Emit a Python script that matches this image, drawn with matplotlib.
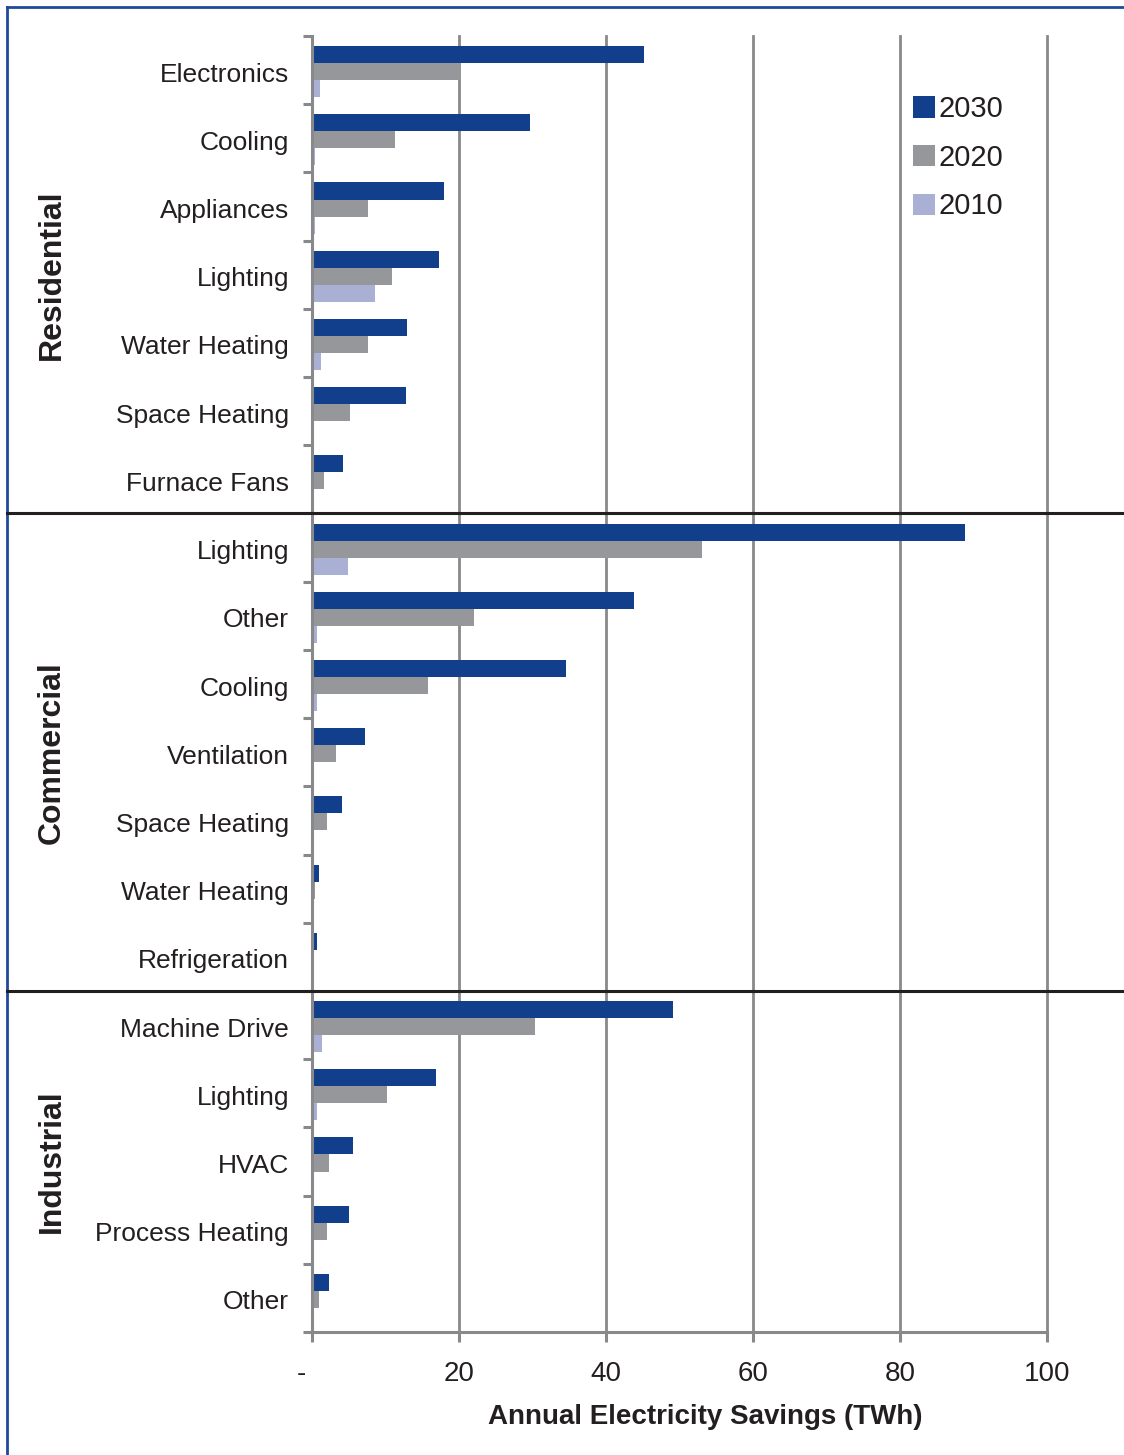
import numpy as np
import matplotlib
matplotlib.use("Agg")
import matplotlib.pyplot as plt
import matplotlib.transforms as mtransforms
from matplotlib.lines import Line2D

plt.rcParams["font.family"] = ["Liberation Sans", "DejaVu Sans"]

# Data (TWh), top to bottom
categories = ["Electronics", "Cooling", "Appliances", "Lighting", "Water Heating",
              "Space Heating", "Furnace Fans",
              "Lighting", "Other", "Cooling", "Ventilation", "Space Heating",
              "Water Heating", "Refrigeration",
              "Machine Drive", "Lighting", "HVAC", "Process Heating", "Other"]
groups = ["Residential", "Commercial", "Industrial"]
group_sizes = [7, 7, 5]
years = ["2030", "2020", "2010"]
savings_2030 = [45.2, 29.7, 18.0, 17.3, 12.9, 12.8, 4.2,
                88.8, 43.8, 34.6, 7.2, 4.1, 1.0, 0.7,
                49.1, 16.9, 5.6, 5.0, 2.3]
savings_2020 = [20.3, 11.3, 7.6, 10.9, 7.6, 5.2, 1.6,
                53.1, 22.0, 15.8, 3.3, 2.0, 0.4, 0.0,
                30.3, 10.2, 2.3, 2.0, 1.0]
savings_2010 = [1.1, 0.4, 0.4, 8.6, 1.2, 0.0, 0.0,
                4.9, 0.7, 0.7, 0.0, 0.0, 0.0, 0.0,
                1.4, 0.7, 0.0, 0.0, 0.0]
xticks = [0, 20, 40, 60, 80, 100]
xticklabels = ["-", "20", "40", "60", "80", "100"]

colors = ["#123f8c", "#96979a", "#a9b0d4"]
text_color = "#231f20"
axis_grey = "#88898b"

fig = plt.figure(figsize=(11.24, 14.55), dpi=100)
ax = fig.add_axes([312 / 1124, 1 - 1332 / 1455, 735 / 1124, 1296 / 1455])

n = len(categories)
pos = np.arange(n)
bar_h = 0.25
series = [savings_2030, savings_2020, savings_2010]
for k, (vals, yr, c) in enumerate(zip(series, years, colors)):
    ax.barh(pos + 0.147 + bar_h * (k + 0.5), vals, height=bar_h, color=c,
            label=yr, zorder=3, linewidth=0)

ax.set_xlim(0, 100)
ax.set_ylim(n, 0)

# x axis
ax.set_xticks(xticks)
ax.set_xticklabels(xticklabels)
ax.tick_params(axis="x", length=7, width=2.2, color=axis_grey, pad=14,
               labelsize=20, labelcolor=text_color)
ax.xaxis.grid(True, color=axis_grey, linewidth=2.0, zorder=1)
for gl in ax.get_xgridlines():
    gl.set_clip_on(False)
# the zero label "-" sits a little left of its tick
zero_lbl = ax.get_xticklabels()[0]
zero_lbl.set_transform(zero_lbl.get_transform()
                       + mtransforms.ScaledTranslation(-11 / 100, 0, fig.dpi_scale_trans))

# y axis: ticks between categories, labels centred on each category
ax.set_yticks(np.arange(n + 1))
ax.set_yticklabels([])
ax.set_yticks(pos + 0.53, minor=True)
ax.set_yticklabels(categories, minor=True)
ax.tick_params(axis="y", which="major", length=6.5, width=2.2, color=axis_grey)
ax.tick_params(axis="y", which="minor", length=0, pad=16.5, labelsize=19,
               labelcolor=text_color)

for side in ["top", "right"]:
    ax.spines[side].set_visible(False)
for side in ["left", "bottom"]:
    ax.spines[side].set_color(axis_grey)
    ax.spines[side].set_linewidth(2.2)
    ax.spines[side].set_zorder(4)
ax.set_axisbelow(True)

ax.set_xlabel("Annual Electricity Savings (TWh)", fontsize=20, fontweight="bold",
              color=text_color)
ax.xaxis.set_label_coords((705 - 312) / 735, (1332 - 1417) / 1296)
ax.xaxis.label.set_va("center")

# group separators and group labels
trans = mtransforms.blended_transform_factory(fig.transFigure, ax.transData)
bounds = np.cumsum(group_sizes)
start = 0
for g, size in zip(groups, group_sizes):
    mid = start + size / 2
    fig.text(52 / 1124, mid, g, transform=trans, rotation=90, fontsize=23,
             fontweight="bold", color=text_color, ha="center", va="center")
    start += size
for b in bounds[:-1]:
    fig.add_artist(Line2D([7 / 1124, 1.0], [b, b], transform=trans,
                          color=text_color, linewidth=2.2, zorder=5))

# outer frame (top and left)
frame_c = "#1f4a98"
fig.add_artist(Line2D([7 / 1124, 1.0], [1 - 7 / 1455, 1 - 7 / 1455],
                      color=frame_c, linewidth=2.0))
fig.add_artist(Line2D([7 / 1124, 7 / 1124], [0, 1 - 7 / 1455],
                      color=frame_c, linewidth=2.0))

leg = ax.legend(loc="upper left", bbox_to_anchor=((913 - 312) / 735, (1332 - 95) / 1296),
                frameon=False, fontsize=21, handlelength=0.75, handleheight=0.75,
                handletextpad=0.12, labelspacing=0.71, borderpad=0, borderaxespad=0)
for t in leg.get_texts():
    t.set_color(text_color)

fig.savefig("out.png", dpi=100)
